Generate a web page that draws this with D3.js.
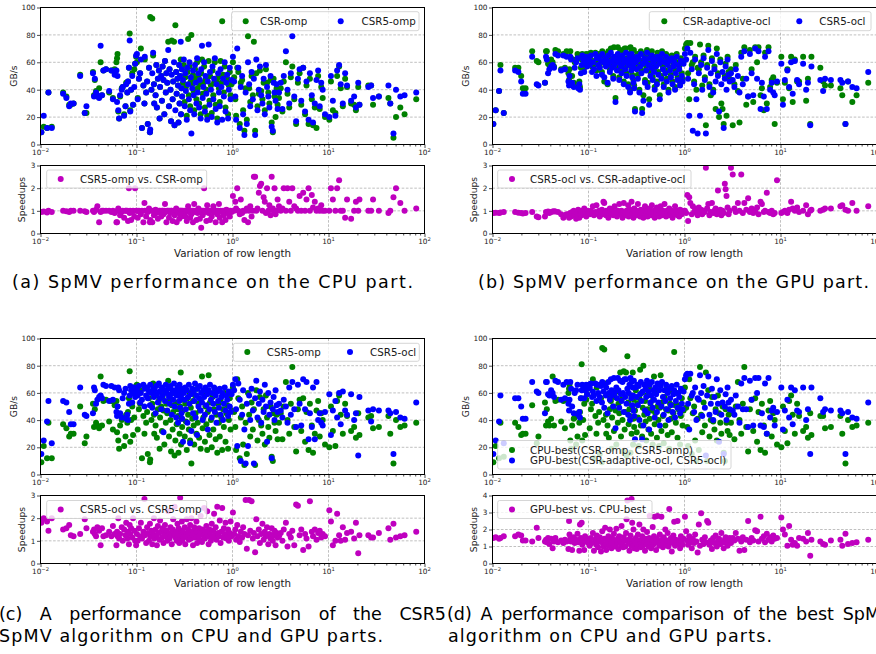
<!DOCTYPE html>
<html>
<head>
<meta charset="utf-8">
<script src="https://cdn.jsdelivr.net/npm/d3@7"></script>
<style>
  body { margin: 0; background: #fff; }
  text { font-family: "DejaVu Sans", sans-serif; }
</style>
</head>
<body>
<svg id="fig" width="876" height="654"></svg>
<script>
// variation of row length, one value per matrix (shared by every panel)
const rowVar = [
  0.0102, 0.0108, 0.0117, 0.0121, 0.0131, 0.0172, 0.0186, 0.0199, 0.0207, 0.0221, 0.0259, 0.0289, 0.0301,
  0.0352, 0.0361, 0.0368, 0.0379, 0.0391, 0.0408, 0.0423, 0.0437, 0.0452, 0.0481, 0.0519, 0.0547, 0.0568, 0.0592,
  0.0618, 0.0627, 0.0634, 0.0646, 0.0659, 0.0675, 0.0702, 0.0718, 0.0743, 0.0768, 0.0781, 0.0802, 0.0815, 0.0834, 0.0849, 0.0861, 0.0879, 0.0903, 0.0921, 0.0948, 0.0967, 0.0991,
  0.101, 0.103, 0.106, 0.109, 0.111, 0.114, 0.118, 0.121, 0.122, 0.126,
  0.129, 0.131, 0.135, 0.138, 0.139, 0.143, 0.146, 0.149, 0.152, 0.153,
  0.158, 0.161, 0.163, 0.167, 0.171, 0.174, 0.176, 0.181, 0.184, 0.187,
  0.191, 0.195, 0.198, 0.202, 0.205, 0.209, 0.214, 0.218, 0.221, 0.226,
  0.229, 0.233, 0.238, 0.241, 0.246, 0.249, 0.254, 0.259, 0.262, 0.267,
  0.271, 0.274, 0.279, 0.281, 0.285, 0.289, 0.291, 0.294, 0.297, 0.299,
  0.305, 0.311, 0.318, 0.322, 0.327, 0.334, 0.339, 0.345, 0.351, 0.356,
  0.362, 0.368, 0.373, 0.381, 0.388, 0.394, 0.399, 0.407, 0.413, 0.421,
  0.428, 0.434, 0.442, 0.449, 0.457, 0.466, 0.472, 0.481, 0.489, 0.497,
  0.506, 0.516, 0.523, 0.534, 0.545, 0.553, 0.564, 0.575, 0.583, 0.596,
  0.608, 0.619, 0.631, 0.643, 0.655, 0.668, 0.681, 0.694, 0.708, 0.722,
  0.737, 0.751, 0.766, 0.781, 0.797, 0.813, 0.829, 0.846, 0.863, 0.881,
  0.899, 0.917, 0.936, 0.955, 0.978,
  1.01, 1.04, 1.07, 1.09, 1.12, 1.15, 1.19, 1.22, 1.26, 1.29,
  1.33, 1.37, 1.41, 1.45, 1.49, 1.53, 1.58, 1.63, 1.67, 1.72,
  1.77, 1.82, 1.88, 1.93, 1.99, 2.05, 2.11, 2.17, 2.23, 2.29,
  2.36, 2.42, 2.49, 2.56, 2.63, 2.68, 2.74, 2.81, 2.88, 2.95,
  3.05, 3.18, 3.31, 3.42, 3.6, 3.74, 3.9, 4.05, 4.2, 4.4,
  4.6, 4.8, 5.0, 5.2, 5.45, 5.7, 5.9, 6.2, 6.4, 6.7,
  6.9, 7.2, 7.5, 7.8, 8.1, 8.4, 8.7, 9.2,
  10.2, 10.6, 11.1, 11.8, 12.3, 12.9, 13.4, 14.1, 14.9, 15.6, 17.2, 18.5, 19.3, 20.4, 21.0, 26.0,
  27.8, 29.1, 33.5, 42.1, 44.0, 47.5, 50.5, 56.0, 62.0, 82.0
];

// GB/s, CPU part
const csrOmp = [
  9, 13, 12, 38, 13, 38, 35, 29, 29, 30, 51, 23, 23,
  53, 36, 47, 39, 35, 41, 60, 36, 54, 55, 38, 54, 34, 55,
  60, 63, 66, 24, 19, 35, 41, 42, 22, 28, 45, 38, 46, 56, 81, 25, 40, 52, 29, 55, 59, 64,
  60, 34, 48, 52, 70, 12, 43, 30, 62, 38,
  46, 15, 56, 9, 93, 40, 92, 65, 44, 30,
  36, 58, 27, 48, 54, 19, 42, 50, 32, 57,
  47, 22, 61, 38, 52, 45, 75, 28, 55, 40,
  17, 76, 33, 46, 75, 14, 87, 53, 37, 48,
  43, 16, 58, 30, 50, 62, 22, 41, 55, 35,
  45, 58, 31, 49, 42, 21, 53, 77, 36, 57,
  28, 46, 80, 44, 51, 39, 25, 55, 48, 33,
  60, 41, 49, 30, 44, 22, 52, 62, 37, 45,
  57, 27, 47, 40, 21, 49, 61, 32, 50, 43,
  23, 54, 36, 45, 60, 29, 47, 19, 49, 41,
  31, 61, 45, 90, 51, 38, 57, 27, 48, 48,
  22, 43, 53, 36, 44,
  60, 49, 33, 21, 56, 53, 15, 45, 47, 25,
  10, 41, 18, 79, 41, 31, 50, 36, 75, 10,
  52, 28, 37, 54, 39, 33, 45, 25, 55, 45,
  38, 30, 47, 16, 9, 48, 35, 20, 41, 29,
  34, 41, 24, 46, 60, 37, 27, 49, 57, 33,
  15, 45, 52, 29, 56, 22, 43, 15, 48, 33,
  14, 27, 12, 50, 26, 42, 34, 20,
  18, 46, 25, 23, 50, 57, 41, 28, 48, 42, 30, 29, 25, 42, 29, 43,
  43, 29, 35, 34, 30, 5, 20, 27, 22, 33
];
const csr5Omp = [
  9, 21, 12, 38, 12, 37, 34, 28, 30, 30, 50, 23, 28,
  52, 35, 48, 38, 36, 34, 72, 36, 54, 55, 39, 54, 33, 51,
  54, 31, 50, 25, 19, 36, 40, 42, 21, 28, 44, 38, 46, 56, 76, 24, 40, 50, 29, 42, 59, 65,
  66, 33, 48, 52, 62, 12, 43, 30, 64, 38,
  46, 15, 56, 9, 11, 40, 52, 67, 44, 30,
  36, 58, 27, 48, 54, 19, 42, 50, 32, 57,
  47, 22, 61, 38, 52, 45, 69, 28, 55, 40,
  17, 51, 33, 46, 60, 14, 25, 53, 37, 48,
  43, 16, 58, 30, 50, 75, 22, 41, 55, 35,
  47, 62, 28, 52, 39, 18, 56, 44, 33, 60,
  25, 49, 8, 41, 54, 36, 22, 58, 45, 30,
  63, 38, 52, 27, 47, 19, 55, 72, 34, 42,
  60, 24, 50, 37, 18, 46, 73, 29, 53, 40,
  20, 57, 33, 48, 63, 26, 44, 16, 52, 38,
  28, 55, 42, 18, 48, 35, 60, 24, 45, 51,
  19, 40, 56, 33, 47,
  64, 46, 35, 18, 70, 56, 12, 42, 50, 22,
  7, 38, 15, 60, 44, 28, 53, 33, 48, 7,
  62, 25, 40, 57, 36, 30, 48, 22, 58, 42,
  35, 27, 50, 13, 10, 45, 38, 32, 44, 26,
  38, 45, 26, 50, 68, 40, 30, 52, 79, 35,
  17, 48, 55, 32, 56, 24, 46, 18, 52, 36,
  16, 30, 47, 54, 28, 45, 40, 22,
  20, 50, 32, 21, 54, 58, 44, 30, 52, 43, 32, 35, 27, 45, 29, 42,
  43, 34, 35, 43, 30, 8, 40, 35, 36, 38
];

// GB/s, GPU part
const csrAdaptiveOcl = [
  15, 25, 39, 58, 23, 56, 56, 50, 41, 41, 68, 61, 60,
  45, 68, 68, 59, 58, 62, 60, 57, 69, 68, 55, 66, 56, 68,
  52, 47, 55, 68, 63, 50, 45, 60, 62, 66, 44, 46, 42, 56, 62, 66, 65, 56, 62, 66, 59, 63,
  66, 64, 67, 57, 61, 58, 67, 54, 66, 60,
  66, 57, 65, 53, 68, 61, 46, 66, 58, 64,
  44, 68, 60, 55, 70, 62, 58, 50, 71, 60,
  34, 64, 56, 71, 62, 49, 69, 59, 54, 68,
  60, 46, 70, 57, 70, 52, 63, 44, 60, 66,
  40, 71, 56, 68, 51, 64, 58, 47, 69, 43,
  26, 64, 57, 66, 51, 65, 40, 59, 68, 54,
  26, 61, 36, 66, 47, 63, 57, 69, 45, 61,
  33, 66, 53, 58, 68, 49, 62, 55, 42, 64,
  59, 46, 67, 53, 62, 36, 65, 50, 68, 57,
  44, 62, 54, 66, 48, 60, 40, 63, 56, 51,
  65, 46, 59, 62, 42, 54, 66, 49, 60, 57,
  45, 63, 52, 48, 61,
  70, 73, 74, 52, 33, 74, 58, 60, 46, 64,
  40, 56, 55, 73, 60, 43, 65, 49, 14, 58,
  72, 44, 36, 63, 40, 57, 26, 70, 52, 20,
  62, 30, 26, 15, 50, 59, 21, 64, 53, 48,
  55, 14, 44, 58, 39, 16, 67, 48, 71, 29,
  35, 69, 55, 31, 71, 60, 71, 36, 41, 25,
  67, 30, 71, 42, 47, 49, 15, 45,
  64, 33, 45, 55, 41, 64, 31, 62, 46, 46, 64, 32, 48, 15, 64, 56,
  46, 43, 43, 41, 36, 15, 46, 31, 36, 45
];
const csr5Ocl = [
  15, 25, 39, 54, 23, 54, 53, 46, 37, 37, 64, 44, 43,
  45, 64, 62, 52, 55, 57, 58, 56, 66, 65, 54, 65, 55, 64,
  46, 43, 50, 64, 62, 45, 42, 56, 60, 63, 41, 44, 40, 52, 58, 65, 62, 53, 60, 64, 57, 62,
  62, 58, 65, 53, 60, 55, 66, 50, 63, 58,
  64, 56, 61, 51, 66, 60, 49, 63, 57, 62,
  45, 65, 59, 53, 67, 61, 56, 48, 64, 58,
  31, 62, 54, 66, 60, 47, 63, 57, 52, 65,
  59, 44, 62, 55, 67, 50, 61, 42, 58, 64,
  38, 60, 54, 66, 49, 62, 57, 45, 63, 41,
  24, 60, 55, 64, 48, 62, 38, 57, 66, 52,
  23, 59, 32, 63, 45, 61, 54, 67, 42, 58,
  29, 63, 50, 56, 65, 47, 60, 53, 40, 62,
  57, 44, 64, 51, 59, 33, 62, 48, 66, 55,
  42, 60, 52, 64, 46, 58, 38, 61, 54, 49,
  63, 44, 57, 60, 40, 52, 64, 47, 58, 55,
  43, 61, 50, 46, 59,
  66, 62, 70, 48, 21, 67, 55, 10, 44, 62,
  33, 8, 52, 21, 58, 40, 63, 47, 8, 56,
  69, 42, 52, 61, 38, 55, 46, 66, 50, 24,
  60, 44, 53, 12, 48, 57, 40, 62, 51, 46,
  52, 47, 42, 55, 50, 38, 64, 44, 68, 48,
  35, 66, 52, 36, 70, 48, 68, 26, 45, 35,
  64, 26, 68, 40, 45, 38, 36, 46,
  59, 29, 47, 54, 42, 60, 37, 61, 47, 44, 59, 40, 45, 14, 57, 47,
  39, 48, 47, 47, 45, 15, 46, 42, 41, 53
];

// speedups
const spdCsr5OmpVsCsrOmp = [
  0.95, 0.97, 0.93, 1.0, 0.95, 1.0, 0.98, 0.95, 1.0, 1.0, 1.0, 0.98, 0.95,
  1.0, 0.95, 1.0, 1.05, 1.2, 0.5, 0.95, 1.0, 1.0, 1.0, 1.0, 0.95, 1.0, 0.9,
  0.5, 0.5, 1.0, 1.1, 1.0, 0.8, 0.95, 1.0, 0.7, 1.0, 1.0, 1.0, 0.55, 2.0, 0.9, 1.0, 0.6, 0.95, 1.0, 0.75, 2.0, 1.0,
  1.0, 0.7, 1.0, 0.95, 0.85, 1.0, 0.5, 1.35, 1.0, 0.75,
  1.0, 0.95, 1.1, 0.5, 0.6, 1.0, 0.5, 1.0, 0.8, 1.0,
  1.05, 0.9, 1.0, 0.65, 1.0, 0.95, 1.0, 0.75, 1.0, 1.0,
  0.85, 1.0, 1.3, 0.95, 0.5, 1.0, 1.0, 0.7, 1.0, 0.9,
  1.0, 1.0, 0.55, 0.95, 1.0, 0.8, 1.0, 1.1, 0.5, 1.0,
  0.9, 1.0, 0.65, 1.0, 1.0, 0.85, 1.0, 0.75, 1.0, 0.95,
  1.0, 0.9, 1.0, 0.75, 1.0, 0.55, 1.0, 1.2, 0.95, 1.0,
  0.7, 1.0, 0.85, 1.0, 0.5, 1.0, 1.3, 0.95, 1.0, 0.6,
  1.0, 0.9, 1.1, 1.0, 0.65, 1.0, 0.25, 1.0, 0.8, 1.0,
  2.0, 0.95, 1.0, 0.55, 1.25, 1.0, 0.9, 1.0, 0.6, 1.0,
  0.75, 1.0, 1.2, 0.95, 1.0, 0.5, 1.0, 0.85, 1.0, 1.3,
  0.7, 1.0, 0.95, 0.5, 1.0, 0.8, 1.0, 0.6, 1.05, 1.0,
  0.9, 1.0, 0.75, 1.0, 0.95,
  1.65, 1.0, 1.4, 1.1, 2.0, 1.0, 0.85, 1.5, 0.9, 1.0,
  0.6, 1.0, 1.1, 0.5, 1.0, 1.2, 0.75, 1.0, 2.5, 2.5,
  1.0, 1.1, 1.8, 2.1, 2.2, 1.0, 1.6, 1.4, 0.9, 2.0,
  1.0, 1.25, 0.8, 2.5, 1.1, 1.0, 2.0, 0.85, 1.0, 1.5,
  1.2, 1.0, 1.1, 2.0, 1.0, 2.0, 1.4, 1.0, 2.0, 1.2,
  1.1, 1.0, 1.65, 1.0, 1.8, 1.0, 1.5, 2.0, 1.0, 1.7,
  1.15, 1.4, 1.0, 1.1, 1.0, 1.25, 1.0, 1.0,
  1.0, 2.0, 1.5, 1.0, 2.0, 2.35, 1.0, 1.0, 0.7, 1.5, 0.65, 1.0, 1.4, 1.0, 1.5, 1.0,
  1.0, 1.5, 1.0, 0.9, 1.0, 1.6, 2.0, 1.35, 1.0, 1.1
];
const spdCsr5OclVsAdaptive = [
  0.9, 0.92, 0.9, 0.93, 0.95, 0.95, 0.92, 0.9, 0.88, 0.9, 0.95, 0.75, 0.72,
  0.75, 0.95, 0.92, 0.97, 0.9, 0.95, 0.97, 0.98, 0.97, 0.95, 0.85, 0.7, 0.8, 0.85,
  0.85, 0.7, 0.8, 0.9, 0.75, 0.95, 1.0, 0.8, 0.65, 0.9, 1.05, 0.7, 0.85, 0.95, 0.8, 1.0, 0.9, 1.1, 0.95, 0.75, 1.0, 0.85,
  0.95, 0.85, 1.0, 0.9, 1.2, 0.8, 0.95, 1.25, 0.9, 0.85,
  1.0, 0.75, 0.9, 1.05, 0.85, 1.4, 1.35, 0.95, 0.8, 1.0,
  0.9, 0.7, 0.95, 1.1, 0.85, 0.9, 1.0, 0.8, 0.95, 1.2,
  0.85, 0.9, 0.75, 1.0, 0.95, 1.3, 0.85, 0.9, 1.0, 0.7,
  0.95, 1.35, 0.85, 0.9, 0.8, 1.0, 0.95, 1.25, 0.75, 0.9,
  1.05, 0.85, 0.95, 1.4, 0.9, 0.8, 1.0, 0.7, 0.95, 1.1,
  0.9, 0.95, 0.8, 1.0, 1.3, 0.85, 0.95, 0.75, 1.05, 0.9,
  0.8, 1.0, 0.7, 0.95, 1.2, 0.85, 0.9, 1.0, 0.75, 0.95,
  0.85, 1.1, 0.9, 0.8, 1.25, 0.95, 0.85, 1.0, 0.7, 0.9,
  0.95, 1.15, 0.85, 1.0, 0.75, 0.9, 1.2, 0.95, 0.8, 1.0,
  0.85, 1.3, 0.9, 0.75, 1.0, 0.95, 0.8, 1.1, 0.85, 0.9,
  1.0, 0.7, 0.95, 0.85, 1.2, 0.9, 1.0, 0.8, 0.95, 0.75,
  1.05, 0.9, 0.85, 1.0, 0.95,
  1.0, 0.9, 1.7, 0.55, 1.6, 1.35, 0.85, 1.2, 0.95, 1.1,
  1.0, 0.8, 1.15, 0.9, 1.05, 0.85, 1.0, 0.95, 2.9, 1.1,
  1.3, 0.8, 0.95, 1.35, 0.9, 1.0, 1.1, 0.85, 1.9, 0.95,
  1.05, 0.8, 1.0, 0.9, 2.2, 1.95, 1.65, 1.15, 0.85, 1.0,
  2.9, 2.6, 1.1, 0.95, 1.35, 1.0, 2.6, 0.9, 1.35, 1.05,
  1.55, 0.95, 1.1, 0.9, 1.0, 1.15, 0.85, 1.4, 1.3, 0.95,
  1.0, 1.8, 0.95, 0.9, 1.0, 0.85, 0.9, 2.35,
  0.9, 0.95, 1.0, 0.9, 1.05, 1.4, 1.1, 1.0, 1.15, 0.95, 1.0, 1.25, 0.85, 1.0, 1.05, 1.0,
  1.05, 1.1, 1.1, 1.2, 1.25, 1.05, 1.0, 1.35, 1.0, 1.2
];
const spdCsr5OclVsCsr5Omp = [
  1.8, 2.0, 1.85, 1.45, 2.0, 1.5, 1.55, 1.7, 1.25, 1.2, 1.3, 1.95, 1.55,
  1.4, 1.5, 1.3, 1.2, 1.6, 1.45, 0.8, 1.55, 1.2, 1.25, 1.4, 1.2, 1.65, 1.3,
  0.8, 1.4, 1.2, 2.0, 1.1, 1.3, 1.6, 1.0, 1.5, 1.25, 1.8, 1.1, 1.4, 0.85, 1.7, 1.3, 1.55, 1.15, 2.0, 1.45, 1.0, 0.8,
  1.3, 1.0, 1.55, 1.2, 1.8, 1.1, 1.4, 2.85, 1.25, 0.9,
  1.6, 1.35, 1.0, 1.75, 1.2, 1.45, 0.85, 1.3, 2.0, 1.1,
  1.5, 1.25, 0.8, 1.65, 1.35, 1.05, 1.9, 1.4, 1.15, 1.55,
  0.9, 1.3, 1.7, 1.2, 1.45, 1.0, 2.3, 1.35, 1.1, 1.6,
  1.25, 0.85, 1.5, 1.95, 1.3, 2.5, 1.15, 1.4, 1.0, 1.75,
  1.2, 1.55, 0.9, 1.35, 2.9, 1.1, 1.45, 1.25, 1.85, 1.0,
  1.4, 1.15, 1.6, 0.85, 1.3, 1.95, 1.2, 1.5, 1.05, 1.35,
  1.7, 1.1, 2.0, 1.25, 0.8, 1.45, 1.6, 1.15, 1.3, 1.85,
  0.9, 1.4, 1.2, 1.55, 1.05, 2.1, 1.35, 0.95, 1.5, 1.25,
  2.45, 1.1, 1.4, 1.65, 2.3, 1.2, 0.85, 1.5, 1.3, 1.0,
  1.75, 1.15, 1.45, 2.2, 1.25, 1.6, 1.05, 2.5, 1.35, 1.2,
  1.9, 0.9, 1.4, 2.45, 1.15, 1.55, 1.3, 1.8, 1.1, 1.25,
  1.5, 1.0, 1.35, 1.85, 1.2,
  2.25, 1.3, 1.5, 1.05, 1.7, 1.2, 0.95, 1.4, 1.15, 1.6,
  1.3, 2.8, 0.65, 1.25, 2.8, 1.45, 2.75, 1.1, 1.35, 0.5,
  1.95, 1.2, 1.5, 0.9, 1.3, 1.75, 1.05, 1.4, 1.2, 1.6,
  0.85, 1.3, 1.1, 1.55, 1.0, 1.25, 1.45, 0.8, 1.35, 1.15,
  1.2, 1.35, 1.0, 1.5, 1.8, 0.75, 1.3, 1.15, 1.45, 0.8,
  2.6, 2.55, 1.25, 1.5, 0.6, 1.3, 1.1, 0.75, 2.75, 1.4,
  1.2, 1.5, 1.05, 1.35, 1.45, 1.15, 1.3, 1.2,
  2.35, 1.85, 0.8, 1.0, 2.2, 1.25, 1.0, 1.6, 1.05, 1.35, 1.4, 1.1, 1.8, 0.45, 1.25, 1.25,
  1.15, 1.15, 1.35, 1.55, 1.05, 1.75, 1.15, 1.2, 1.25, 1.4
];
const spdGpuBestVsCpuBest = [
  1.5, 1.55, 1.45, 1.5, 1.6, 1.6, 1.7, 1.65, 1.35, 1.35, 1.3, 2.1, 1.5,
  1.3, 1.4, 1.25, 1.5, 1.15, 1.45, 0.9, 1.3, 1.5, 1.25, 1.35, 1.2, 1.4, 1.3,
  0.85, 2.5, 1.7, 1.45, 1.3, 0.8, 1.55, 1.2, 1.4, 1.75, 1.25, 0.75, 2.3, 1.5, 2.4, 1.1, 1.35, 0.8, 1.6, 1.3, 1.45, 1.2,
  1.3, 1.05, 1.5, 1.2, 1.8, 0.75, 1.4, 1.1, 1.65, 0.95,
  1.3, 1.55, 0.7, 1.25, 1.9, 1.0, 1.45, 2.1, 1.15, 0.8,
  1.35, 1.6, 1.05, 2.0, 1.25, 0.9, 1.5, 1.15, 1.75, 1.3,
  1.0, 2.05, 1.2, 1.45, 0.85, 1.6, 1.3, 1.1, 2.2, 1.25,
  0.95, 1.55, 1.35, 1.0, 1.8, 2.6, 3.7, 1.2, 1.4, 0.75,
  1.3, 1.65, 1.05, 3.8, 2.4, 1.35, 1.1, 2.0, 1.25, 0.9,
  1.2, 1.5, 0.85, 1.35, 1.7, 1.1, 2.3, 1.25, 0.95, 1.4,
  1.6, 1.05, 2.0, 1.3, 0.75, 1.45, 1.15, 1.85, 1.3, 1.0,
  1.5, 2.8, 1.2, 0.9, 1.35, 2.15, 1.1, 1.6, 2.75, 1.25,
  0.8, 1.45, 2.8, 1.3, 1.05, 1.7, 1.2, 2.75, 1.4, 0.95,
  1.55, 1.25, 2.0, 1.1, 1.35, 1.8, 1.0, 3.2, 1.3, 1.5,
  0.7, 1.2, 1.65, 2.45, 1.05, 1.4, 1.25, 2.5, 1.15, 1.35,
  0.9, 1.6, 1.3, 1.1, 1.45,
  2.75, 1.9, 1.35, 1.1, 1.6, 1.25, 0.9, 1.45, 1.2, 1.7,
  1.3, 0.65, 2.3, 1.05, 2.95, 1.4, 1.15, 1.55, 1.25, 2.5,
  2.4, 1.1, 1.35, 0.85, 1.5, 1.2, 1.65, 1.0, 1.3, 1.45,
  1.15, 1.8, 1.25, 0.9, 1.4, 1.55, 1.2, 1.05, 1.35, 1.5,
  1.2, 1.5, 1.35, 1.8, 1.45, 0.75, 1.3, 1.55, 0.8, 1.4,
  2.5, 1.25, 1.5, 1.35, 1.95, 1.9, 1.3, 2.75, 1.45, 1.6,
  1.25, 1.75, 1.4, 1.55, 1.3, 1.65, 1.45, 1.5,
  2.7, 2.0, 1.7, 1.05, 2.2, 1.4, 1.1, 1.2, 1.05, 1.5, 1.45, 1.3, 1.8, 0.45, 1.4, 1.3,
  1.15, 1.1, 1.35, 1.4, 1.05, 1.75, 1.15, 1.2, 1.25, 1.4
];

// best of each device
const cpuBest = csrOmp.map((v, i) => Math.max(v, csr5Omp[i]));
const gpuBest = csrAdaptiveOcl.map((v, i) => Math.max(v, csr5Ocl[i]));

// ticks
const xMajor = [0.01, 0.1, 1, 10, 100];
const xExps = ["\u22122", "\u22121", "0", "1", "2"];
const gbTicks = [0, 20, 40, 60, 80, 100];
const spdTicks = [0, 1, 2, 3];
const spdTicksBest = [0, 1, 2, 3, 4];

const GREEN = "#008000", BLUE = "#0000ff", MAGENTA = "#bf00bf";
const R = 3;
const TXT = "#1a1a1a";

const svg = d3.select("#fig");
svg.append("rect").attr("width", 876).attr("height", 654).attr("fill", "#fff");

const xMinor = [];
xMajor.slice(0, -1).forEach(d => { for (let k = 2; k < 10; k++) xMinor.push(d * k); });

let clipCount = 0;

function drawPanel(p) {
  const x = d3.scaleLog().domain([0.01, 100]).range([p.left, p.right]);
  const y = d3.scaleLinear().domain([0, p.yMax]).range([p.bottom, p.top]);
  const g = svg.append("g");

  // grid
  g.append("g").selectAll("line").data(xMajor).join("line")
    .attr("x1", d => x(d)).attr("x2", d => x(d))
    .attr("y1", p.top).attr("y2", p.bottom);
  g.append("g").selectAll("line").data(p.yTicks).join("line")
    .attr("x1", p.left).attr("x2", p.right)
    .attr("y1", d => y(d)).attr("y2", d => y(d));
  g.selectAll("line")
    .attr("stroke", "#b0b0b0").attr("stroke-width", 0.8)
    .attr("stroke-dasharray", "2.6,1.6");

  // points
  const id = "clip" + (clipCount++);
  g.append("clipPath").attr("id", id).append("rect")
    .attr("x", p.left).attr("y", p.top)
    .attr("width", p.right - p.left).attr("height", p.bottom - p.top);
  const plot = g.append("g").attr("clip-path", `url(#${id})`);
  p.series.forEach(s => {
    const pts = rowVar.map((v, i) => [v, s.values[i]]).filter(d => d[1] != null);
    plot.append("g").selectAll("circle").data(pts).join("circle")
      .attr("cx", d => x(d[0])).attr("cy", d => y(d[1]))
      .attr("r", R).attr("fill", s.color);
  });

  // axes
  const xa = g.append("g").attr("transform", `translate(0,${p.bottom})`)
    .call(d3.axisBottom(x).tickValues(xMajor).tickSize(3.5).tickFormat(""));
  const xm = g.append("g").attr("transform", `translate(0,${p.bottom})`)
    .call(d3.axisBottom(x).tickValues(xMinor).tickSize(2).tickFormat(""));
  [xa, xm].forEach(a => { a.select(".domain").remove(); a.selectAll("line").attr("stroke", "#000").attr("stroke-width", 0.7); });

  const lbl = g.append("g").selectAll("text").data(xMajor).join("text")
    .attr("x", d => x(d)).attr("y", p.bottom + 10)
    .attr("text-anchor", "middle").attr("font-size", 7.3).attr("fill", TXT);
  lbl.append("tspan").text("10");
  lbl.append("tspan").attr("dy", -3).attr("font-size", 5.2).text((d, i) => xExps[i]);

  const ya = g.append("g").attr("transform", `translate(${p.left},0)`)
    .call(d3.axisLeft(y).tickValues(p.yTicks).tickSize(3.5).tickPadding(1.5).tickFormat(d3.format("d")));
  ya.select(".domain").remove();
  ya.selectAll("line").attr("stroke", "#000").attr("stroke-width", 0.7);
  ya.selectAll("text").attr("font-size", 7.3).attr("fill", TXT)
    .attr("font-family", "DejaVu Sans, sans-serif");

  // frame
  g.append("rect").attr("x", p.left).attr("y", p.top)
    .attr("width", p.right - p.left).attr("height", p.bottom - p.top)
    .attr("fill", "none").attr("stroke", "#000").attr("stroke-width", 1);

  // y label
  g.append("text")
    .attr("transform", `translate(${p.ylabelX},${(p.top + p.bottom) / 2}) rotate(-90)`)
    .attr("text-anchor", "middle").attr("dy", "0.35em")
    .attr("font-size", 9.2).attr("fill", TXT).text(p.ylabel);

  if (p.xlabel) {
    g.append("text").attr("x", (p.left + p.right) / 2).attr("y", p.bottom + 23.5)
      .attr("text-anchor", "middle").attr("font-size", 10.3).attr("fill", TXT)
      .text("Variation of row length");
  }

  // legend
  const lg = p.legend;
  g.append("rect").attr("x", lg.x).attr("y", lg.y).attr("width", lg.w).attr("height", lg.h)
    .attr("rx", 2).attr("fill", "#fff").attr("fill-opacity", 0.8)
    .attr("stroke", "#cccccc").attr("stroke-width", 0.8);
  lg.items.forEach(it => {
    g.append("circle").attr("cx", it.cx).attr("cy", it.cy).attr("r", R).attr("fill", it.color);
    g.append("text").attr("x", it.tx).attr("y", it.cy).attr("dy", "0.36em")
      .attr("font-size", 10.3).attr("fill", TXT).text(it.label);
  });
}

const L = { left: 40.5, right: 424.5 }, Rt = { left: 492.5, right: 876.5 };

// (a)
drawPanel({ ...L, top: 7.5, bottom: 144.5, yMax: 100, yTicks: gbTicks, ylabel: "GB/s", ylabelX: 13.5,
  series: [{ values: csrOmp, color: GREEN }, { values: csr5Omp, color: BLUE }],
  legend: { x: 231.5, y: 11.7, w: 187.5, h: 19, items: [
    { cx: 245.7, cy: 21.3, tx: 260, color: GREEN, label: "CSR-omp" },
    { cx: 340.7, cy: 21.3, tx: 361.5, color: BLUE, label: "CSR5-omp" }] } });
drawPanel({ ...L, top: 165.5, bottom: 233.5, yMax: 3, yTicks: spdTicks, ylabel: "Speedups", ylabelX: 22, xlabel: true,
  series: [{ values: spdCsr5OmpVsCsrOmp, color: MAGENTA }],
  legend: { x: 46.7, y: 170, w: 160, h: 18, items: [
    { cx: 60.7, cy: 179, tx: 80, color: MAGENTA, label: "CSR5-omp vs. CSR-omp" }] } });

// (b)
drawPanel({ ...Rt, top: 7.5, bottom: 144.5, yMax: 100, yTicks: gbTicks, ylabel: "GB/s", ylabelX: 466,
  series: [{ values: csrAdaptiveOcl, color: GREEN }, { values: csr5Ocl, color: BLUE }],
  legend: { x: 649.3, y: 11.7, w: 221.7, h: 19, items: [
    { cx: 664.3, cy: 21.3, tx: 682.7, color: GREEN, label: "CSR-adaptive-ocl" },
    { cx: 799.3, cy: 21.3, tx: 819.3, color: BLUE, label: "CSR5-ocl" }] } });
drawPanel({ ...Rt, top: 165.5, bottom: 233.5, yMax: 3, yTicks: spdTicks, ylabel: "Speedups", ylabelX: 474, xlabel: true,
  series: [{ values: spdCsr5OclVsAdaptive, color: MAGENTA }],
  legend: { x: 497.7, y: 170, w: 193.3, h: 18, items: [
    { cx: 512, cy: 179, tx: 530, color: MAGENTA, label: "CSR5-ocl vs. CSR-adaptive-ocl" }] } });

// (c)
drawPanel({ ...L, top: 338.5, bottom: 474.5, yMax: 100, yTicks: gbTicks, ylabel: "GB/s", ylabelX: 13.5,
  series: [{ values: csr5Omp, color: GREEN }, { values: csr5Ocl, color: BLUE }],
  legend: { x: 233.3, y: 343.3, w: 186, h: 18, items: [
    { cx: 247.3, cy: 352, tx: 266.7, color: GREEN, label: "CSR5-omp" },
    { cx: 350, cy: 352, tx: 370, color: BLUE, label: "CSR5-ocl" }] } });
drawPanel({ ...L, top: 495.5, bottom: 563.5, yMax: 3, yTicks: spdTicks, ylabel: "Speedups", ylabelX: 22, xlabel: true,
  series: [{ values: spdCsr5OclVsCsr5Omp, color: MAGENTA }],
  legend: { x: 46.7, y: 500.5, w: 160, h: 18, items: [
    { cx: 60.7, cy: 509.5, tx: 80, color: MAGENTA, label: "CSR5-ocl vs. CSR5-omp" }] } });

// (d)
drawPanel({ ...Rt, top: 338.5, bottom: 474.5, yMax: 100, yTicks: gbTicks, ylabel: "GB/s", ylabelX: 466,
  series: [{ values: cpuBest, color: GREEN }, { values: gpuBest, color: BLUE }],
  legend: { x: 497.7, y: 440.5, w: 233.3, h: 28.5, items: [
    { cx: 512, cy: 450, tx: 530, color: GREEN, label: "CPU-best(CSR-omp, CSR5-omp)" },
    { cx: 512, cy: 460.5, tx: 530, color: BLUE, label: "GPU-best(CSR-adaptive-ocl, CSR5-ocl)" }] } });
drawPanel({ ...Rt, top: 495.5, bottom: 563.5, yMax: 4, yTicks: spdTicksBest, ylabel: "Speedups", ylabelX: 474, xlabel: true,
  series: [{ values: spdGpuBestVsCpuBest, color: MAGENTA }],
  legend: { x: 497.7, y: 500.5, w: 154.3, h: 18, items: [
    { cx: 512, cy: 509.5, tx: 530, color: MAGENTA, label: "GPU-best vs. CPU-best" }] } });

// captions
const CAP = 17.5;
function captionLine(str, x0, x1, yBase) {
  svg.append("text").attr("x", x0).attr("y", yBase).attr("font-size", CAP).attr("fill", "#000")
    .attr("textLength", x1 - x0).attr("lengthAdjust", "spacing").text(str);
}
function justifiedLine(str, x0, x1, yBase) {
  const words = str.split(" ");
  const nodes = words.map(w => svg.append("text").attr("y", yBase).attr("font-size", CAP)
    .attr("fill", "#000").text(w));
  const widths = nodes.map(n => n.node().getComputedTextLength());
  const gap = (x1 - x0 - d3.sum(widths)) / (words.length - 1);
  let cx = x0;
  nodes.forEach((n, i) => { n.attr("x", cx); cx += widths[i] + gap; });
}
captionLine("(a) SpMV performance on the CPU part.", 12, 413, 288);
captionLine("(b) SpMV performance on the GPU part.", 478, 869, 288);
justifiedLine("(c) A performance comparison of the CSR5", -1, 446, 620);
captionLine("SpMV algorithm on CPU and GPU parts.", -1, 383, 642);
justifiedLine("(d) A performance comparison of the best SpMV", 447, 892, 620);
captionLine("algorithm on CPU and GPU parts.", 448, 772, 642);
</script>
</body>
</html>
